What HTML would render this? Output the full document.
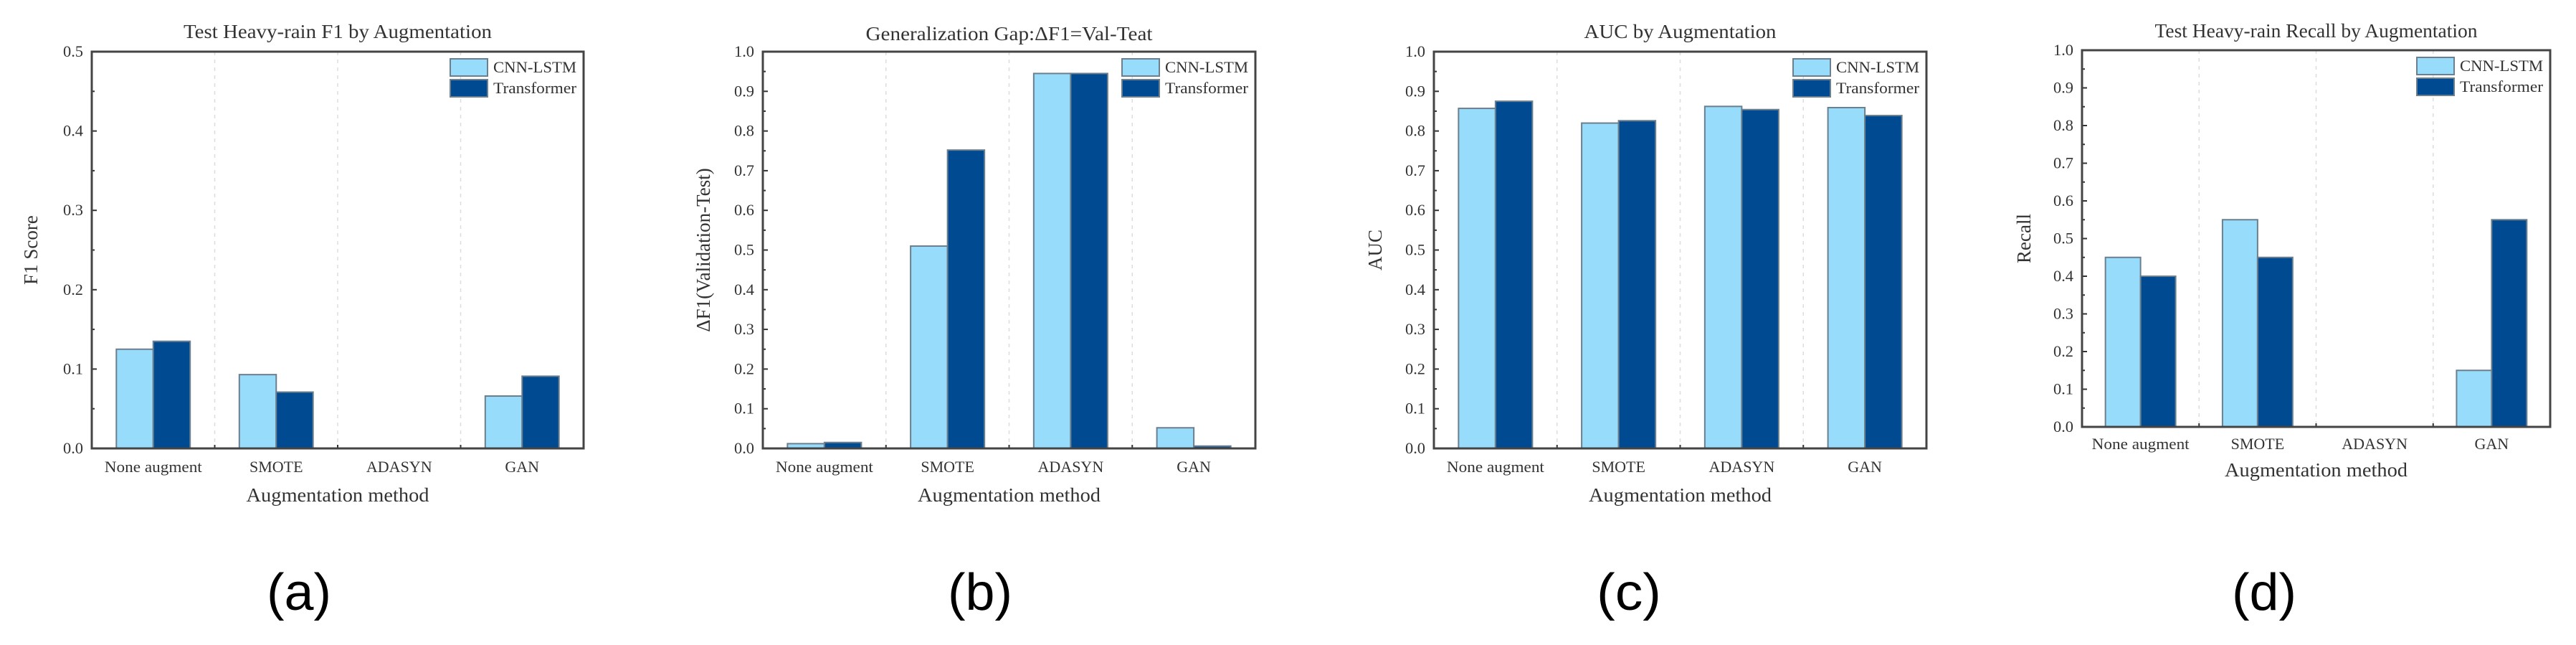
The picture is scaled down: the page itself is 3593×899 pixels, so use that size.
<!DOCTYPE html>
<html><head><meta charset="utf-8"><style>
html,body{margin:0;padding:0;background:#fff}
svg{display:block}
text{font-family:"Liberation Serif",serif;fill:#333}
</style></head><body>
<svg id="fig" width="3593" height="899" viewBox="0 0 3593 899" xmlns="http://www.w3.org/2000/svg"></svg>
<script>
const categories = ["None augment","SMOTE","ADASYN","GAN"];
const seriesNames = ["CNN-LSTM","Transformer"];
const f1Cnn = [0.125,0.093,0,0.066];
const f1Trans = [0.135,0.071,0,0.091];
const gapCnn = [0.012,0.51,0.945,0.052];
const gapTrans = [0.015,0.752,0.945,0.006];
const aucCnn = [0.857,0.820,0.862,0.859];
const aucTrans = [0.875,0.826,0.854,0.839];
const recCnn = [0.45,0.55,0,0.15];
const recTrans = [0.40,0.45,0,0.55];
const ticksHalf = ["0.0","0.1","0.2","0.3","0.4","0.5"];
const ticksOne = ["0.0","0.1","0.2","0.3","0.4","0.5","0.6","0.7","0.8","0.9","1.0"];

const NS="http://www.w3.org/2000/svg";
const svg=document.getElementById('fig');
function mk(tag,attrs,parent){const e=document.createElementNS(NS,tag);for(const k in attrs)e.setAttribute(k,attrs[k]);(parent||svg).appendChild(e);return e;}
const colors=["#97DDFB","#004A91"];

const panels=[
 {id:"a",title:"Test Heavy-rain F1 by Augmentation",titleW:430,ytitle:"F1 Score",L:128,R:814,T:72,B:625,max:0.5,ticks:ticksHalf,data:[f1Cnn,f1Trans],yx:43,lx:417,ty:43,cy:650,xy:690},
 {id:"b",title:"Generalization Gap:\u0394F1=Val-Teat",titleW:400,ytitle:"\u0394F1(Validation-Test)",L:1064,R:1751,T:72,B:625,max:1.0,ticks:ticksOne,data:[gapCnn,gapTrans],yx:981,lx:1367,ty:46,cy:650,xy:690},
 {id:"c",title:"AUC by Augmentation",titleW:268,ytitle:"AUC",L:2000,R:2687,T:72,B:625,max:1.0,ticks:ticksOne,data:[aucCnn,aucTrans],yx:1918,lx:2272,ty:43,cy:650,xy:690},
 {id:"d",title:"Test Heavy-rain Recall by Augmentation",titleW:450,ytitle:"Recall",L:2904,R:3557,T:70,B:595,max:1.0,ticks:ticksOne,data:[recCnn,recTrans],yx:2823,lx:3158,ty:42,cy:618,xy:655}
];

panels.forEach(p=>{
 const g=mk('g',{});
 
 
 const W=p.R-p.L,H=p.B-p.T,n=categories.length,step=W/n;
 const yS=v=>p.B-v/p.max*H;
 const xC=i=>p.L+step*(i+0.5);
 for(let i=1;i<n;i++){const l=mk('line',{x1:p.L+step*i,x2:p.L+step*i,y1:p.T,y2:p.B,stroke:"#ddd","stroke-width":1.5,"stroke-dasharray":"5,6"},g);
  
  mk('line',{x1:p.L+step*i,x2:p.L+step*i,y1:p.B,y2:p.B-5,stroke:"#333","stroke-width":2},g);}
 const bw=step*0.3;
 p.data.forEach((arr,s)=>{
  arr.forEach((v,i)=>{
   const x=xC(i)-bw+s*bw, y=yS(v);
   const r=mk('rect',{x:x,y:y,width:bw,height:Math.max(0,p.B-y),fill:colors[s],stroke:"#6b7f8f","stroke-width":2},g);
   
   
  });
 });
 const nt=p.ticks.length;
 p.ticks.forEach((lab,i)=>{
  const v=p.max*i/(nt-1), y=yS(v);
  mk('line',{x1:p.L,x2:p.L+7,y1:y,y2:y,stroke:"#333","stroke-width":2},g);
  if(i<nt-1){const ym=yS(v+p.max/(nt-1)/2);mk('line',{x1:p.L,x2:p.L+4,y1:ym,y2:ym,stroke:"#333","stroke-width":2},g);}
  const t=mk('text',{x:p.L-12,y:y+7,"font-size":22,"text-anchor":"end",textLength:28,lengthAdjust:"spacingAndGlyphs"},g);
  t.textContent=lab;
 });
 const f=mk('rect',{x:p.L,y:p.T,width:W,height:H,fill:"none",stroke:"#444","stroke-width":3},g);
 
 categories.forEach((c,i)=>{
  const t=mk('text',{x:xC(i),y:p.cy+8,"font-size":22,"text-anchor":"middle"},g);
  if(c==="None augment"){t.setAttribute('textLength',136);t.setAttribute('lengthAdjust','spacingAndGlyphs');}
  t.textContent=c;
 });
 const xt=mk('text',{x:(p.L+p.R)/2,y:p.xy+9,"font-size":27,"text-anchor":"middle",textLength:255,lengthAdjust:"spacingAndGlyphs"},g);
 xt.textContent="Augmentation method";
 const tt=mk('text',{x:(p.L+p.R)/2,y:p.ty+10,"font-size":27,"text-anchor":"middle",textLength:p.titleW,lengthAdjust:"spacingAndGlyphs"},g);
 tt.textContent=p.title;
 const yt=mk('text',{x:p.yx,y:(p.T+p.B)/2,"font-size":27,"text-anchor":"middle",transform:`rotate(-90 ${p.yx} ${(p.T+p.B)/2})`,dy:9},g);
 yt.textContent=p.ytitle;
 const lx=p.R-186,ly=p.T+10;
 seriesNames.forEach((nm,s)=>{
  const r=mk('rect',{x:lx,y:ly+s*29,width:52,height:24,fill:colors[s],stroke:"#6b7f8f","stroke-width":2},g);
  
  const t=mk('text',{x:lx+60,y:ly+s*29+19,"font-size":22,textLength:116,lengthAdjust:"spacingAndGlyphs"},g);
  t.textContent=nm;
 });
 const sl=mk('text',{x:p.lx,y:850,"font-size":72,"text-anchor":"middle",textLength:90,lengthAdjust:"spacingAndGlyphs",style:"font-family:'Liberation Sans',sans-serif;fill:#000"},g);
 sl.textContent="("+p.id+")";
});
</script>
</body></html>
